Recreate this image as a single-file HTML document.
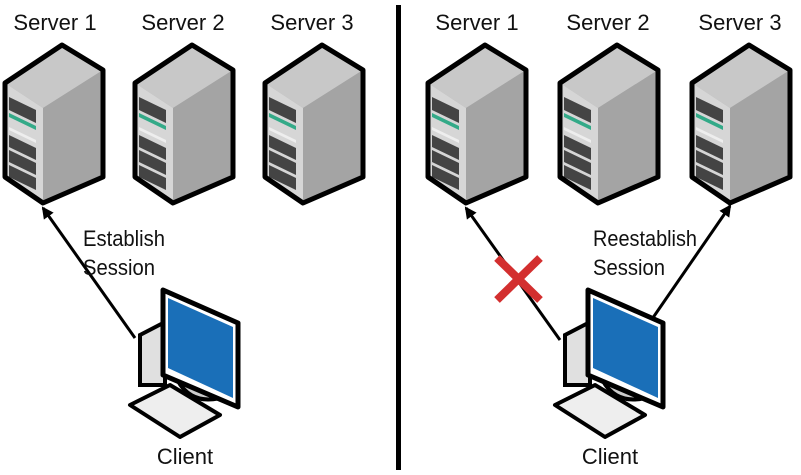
<!DOCTYPE html>
<html><head><style>body{margin:0;background:#fff}svg{display:block}text{font-family:"Liberation Sans Narrow","Liberation Sans",sans-serif;font-size:22px;fill:#111}</style></head><body>
<svg width="801" height="475" viewBox="0 0 801 475" xmlns="http://www.w3.org/2000/svg">
<defs>
<g id="srv">
<polygon points="5,83 62,45 103,70 103,177 43,203 5,177" fill="#a9a9a9"/>
<polygon points="5,83 62,45 103,70 43,108" fill="#c8c8c8"/>
<polygon points="5,83 43,108 43,203 5,177" fill="#d6d6d6"/>
<polygon points="43,108 103,70 103,177 43,203" fill="#a4a4a4"/>
<polygon points="9,97 36,110 36,123 9,110" fill="#444"/>
<polygon points="9,113 36,126 36,130 9,117" fill="#3a8" />
<polygon points="9,127 36,140 36,143 9,130" fill="#eee"/>
<polygon points="9,135 36,148 36,160 9,147" fill="#444"/>
<polygon points="9,150 36,163 36,175 9,162" fill="#444"/>
<polygon points="9,165 36,178 36,190 9,177" fill="#444"/>
<polygon points="5,83 62,45 103,70 103,177 43,203 5,177" fill="none" stroke="#000" stroke-width="5" stroke-linejoin="round"/>
</g>
<g id="cli">
<polygon points="140,335 165,322 165,385 140,385" fill="#e0e0e0" stroke="#000" stroke-width="4"/>
<path d="M175,375 Q190,410 230,395" fill="#ccc" stroke="#000" stroke-width="4"/>
<polygon points="163,290 238,323 238,407 163,375" fill="#fff" stroke="#000" stroke-width="5" stroke-linejoin="round"/>
<polygon points="168,298 233,327 233,398 168,368" fill="#1a6fb8"/>
<polygon points="130,405 170,385 220,415 180,437" fill="#eee" stroke="#000" stroke-width="4" stroke-linejoin="round"/>
<text x="185" y="464" text-anchor="middle">Client</text>
</g>
<marker id="ah" markerWidth="12" markerHeight="12" refX="10" refY="6" orient="auto" markerUnits="userSpaceOnUse"><path d="M0,0 L12,6 L0,12 z" fill="#000"/></marker>
</defs>
<text x="55" y="30" text-anchor="middle">Server 1</text>
<text x="183" y="30" text-anchor="middle">Server 2</text>
<text x="312" y="30" text-anchor="middle">Server 3</text>
<text x="477" y="30" text-anchor="middle">Server 1</text>
<text x="608" y="30" text-anchor="middle">Server 2</text>
<text x="740" y="30" text-anchor="middle">Server 3</text>
<use href="#srv"/><use href="#srv" x="130"/><use href="#srv" x="260"/>
<use href="#srv" x="423"/><use href="#srv" x="555"/><use href="#srv" x="687"/>
<rect x="396" y="5" width="5" height="465" fill="#000"/>
<line x1="135" y1="338" x2="43" y2="208" stroke="#000" stroke-width="3" marker-end="url(#ah)"/>
<line x1="560" y1="340" x2="466" y2="208" stroke="#000" stroke-width="3" marker-end="url(#ah)"/>
<line x1="650" y1="322" x2="730" y2="206" stroke="#000" stroke-width="3" marker-end="url(#ah)"/>
<text x="83" y="246" textLength="82" lengthAdjust="spacingAndGlyphs">Establish</text><text x="83" y="275" textLength="72" lengthAdjust="spacingAndGlyphs">Session</text>
<text x="593" y="246" textLength="104" lengthAdjust="spacingAndGlyphs">Reestablish</text><text x="593" y="275" textLength="72" lengthAdjust="spacingAndGlyphs">Session</text>
<g stroke="#d32f2f" stroke-width="8"><line x1="497" y1="258" x2="540" y2="300"/><line x1="540" y1="258" x2="497" y2="300"/></g>
<use href="#cli"/><use href="#cli" x="425"/>
</svg>
</body></html>
